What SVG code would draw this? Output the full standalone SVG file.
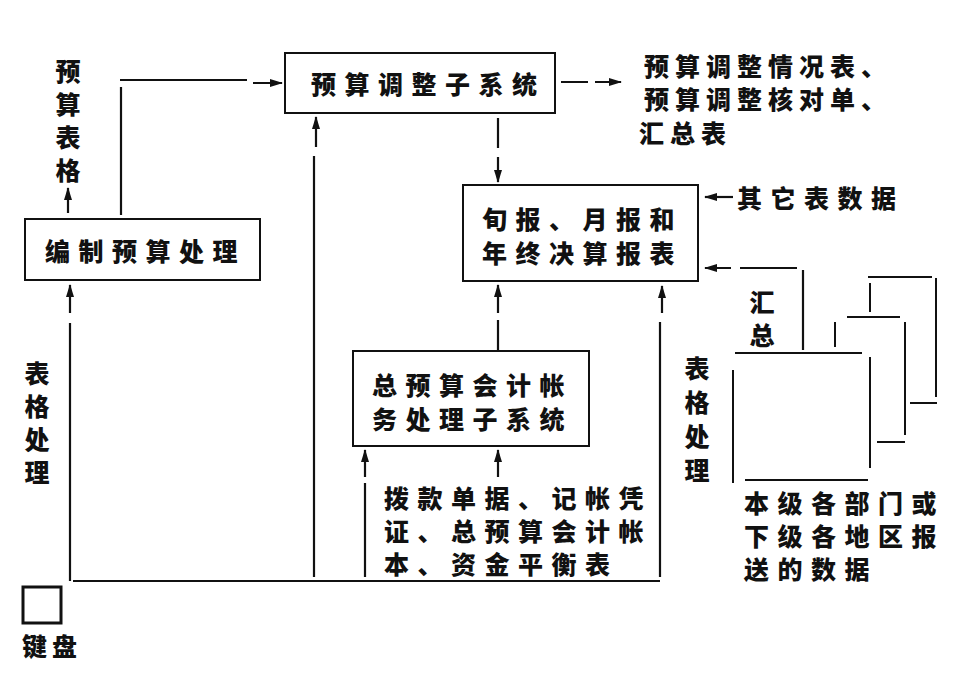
<svg xmlns="http://www.w3.org/2000/svg" width="965" height="687" viewBox="0 0 965 687">
<defs>
<marker id="ah" markerUnits="userSpaceOnUse" markerWidth="13" markerHeight="10" refX="12" refY="5" orient="auto">
<path d="M0,1 L13,5 L0,9 z" fill="#111"/>
</marker>
<style>
.bx{fill:none;stroke:#111;stroke-width:2}
.ln{fill:none;stroke:#111;stroke-width:2}
.ar{fill:none;stroke:#111;stroke-width:2.2;marker-end:url(#ah)}
.t{font-family:"Noto Sans CJK SC","Noto Sans",sans-serif;font-size:25px;font-weight:900;fill:#111;letter-spacing:8.5px;dominant-baseline:central}
.v{font-family:"Noto Sans CJK SC","Noto Sans",sans-serif;font-size:25px;font-weight:900;fill:#111;text-anchor:middle;dominant-baseline:central}
</style>
</defs>
<rect width="965" height="687" fill="#fff"/>

<g id="connectors">
<path class="ar" d="M68,213 V188"/>
<path class="ar" d="M121,215 V87 M120,80 H247 M253,83 H282"/>
<path class="ar" d="M561,82 H588 M595,82 H621"/>
<path class="ar" d="M498,118 V148 M498,157 V182"/>
<path class="ar" d="M314,577 V156 M316,147 V117"/>
<path class="ar" d="M498,350 V320 M498,313 V285"/>
<path class="ar" d="M660,577 V322 M662,313 V286"/>
<path class="ar" d="M365,577 V483 M365,477 V450"/>
<path class="ar" d="M498,477 V450"/>
<path class="ln" d="M73,581 H660"/>
<path class="ar" d="M70,581 V323 M70,313 V285"/>
<path class="ar" d="M733,197 H705"/>
<path class="ar" d="M803,350 V270 M797,268 H740 M731,268 H705"/>
</g>

<g id="n-bianzhi">
<rect class="bx" x="25" y="219" width="235" height="61"/>
<text class="t" x="45" y="250">编制预算处理</text>
</g>

<g id="n-tiaozheng">
<rect class="bx" x="285" y="53" width="270" height="60"/>
<text class="t" x="311" y="83">预算调整子系统</text>
</g>

<g id="n-baobiao">
<rect class="bx" x="463" y="185" width="235" height="96"/>
<text class="t" x="482" y="218">旬报、月报和</text>
<text class="t" x="482" y="252">年终决算报表</text>
</g>

<g id="n-zongyusuan">
<rect class="bx" x="353" y="351" width="236" height="95"/>
<text class="t" x="372" y="384">总预算会计帐</text>
<text class="t" x="372" y="418">务处理子系统</text>
</g>

<g id="n-keyboard">
<rect x="23" y="587" width="38" height="36" fill="none" stroke="#111" stroke-width="3"/>
<text class="t" x="22" y="645" style="letter-spacing:5px">键盘</text>
</g>

<g id="n-pages">
<path class="ln" d="M868,277 H932 M870,283 V312 M936,278 V397 M910,403 H937"/>
<path class="ln" d="M847,317 H900 M835,322 V347 M905,322 V435 M877,442 H905"/>
<path class="ln" d="M735,353 H862 M733,370 V483 M870,357 V468 M745,480 H868"/>
</g>

<g id="labels">
<text class="v"><tspan x="68" y="70">预</tspan><tspan x="68" y="103">算</tspan><tspan x="68" y="136">表</tspan><tspan x="68" y="169">格</tspan></text>
<text class="t" x="644" y="65" style="letter-spacing:6px">预算调整情况表、</text>
<text class="t" x="644" y="98" style="letter-spacing:6px">预算调整核对单、</text>
<text class="t" x="639" y="132" style="letter-spacing:6px">汇总表</text>
<text class="t" x="737" y="197">其它表数据</text>
<text class="v"><tspan x="762" y="301">汇</tspan><tspan x="762" y="334">总</tspan></text>
<text class="v"><tspan x="697" y="367">表</tspan><tspan x="697" y="401">格</tspan><tspan x="697" y="435">处</tspan><tspan x="697" y="469">理</tspan></text>
<text class="v"><tspan x="37" y="372">表</tspan><tspan x="37" y="405">格</tspan><tspan x="37" y="438">处</tspan><tspan x="37" y="471">理</tspan></text>
<text class="t" x="384" y="497">拨款单据、记帐凭</text>
<text class="t" x="384" y="530">证、总预算会计帐</text>
<text class="t" x="384" y="563">本、资金平衡表</text>
<text class="t" x="744" y="502">本级各部门或</text>
<text class="t" x="744" y="535">下级各地区报</text>
<text class="t" x="744" y="568">送的数据</text>
</g>
</svg>
